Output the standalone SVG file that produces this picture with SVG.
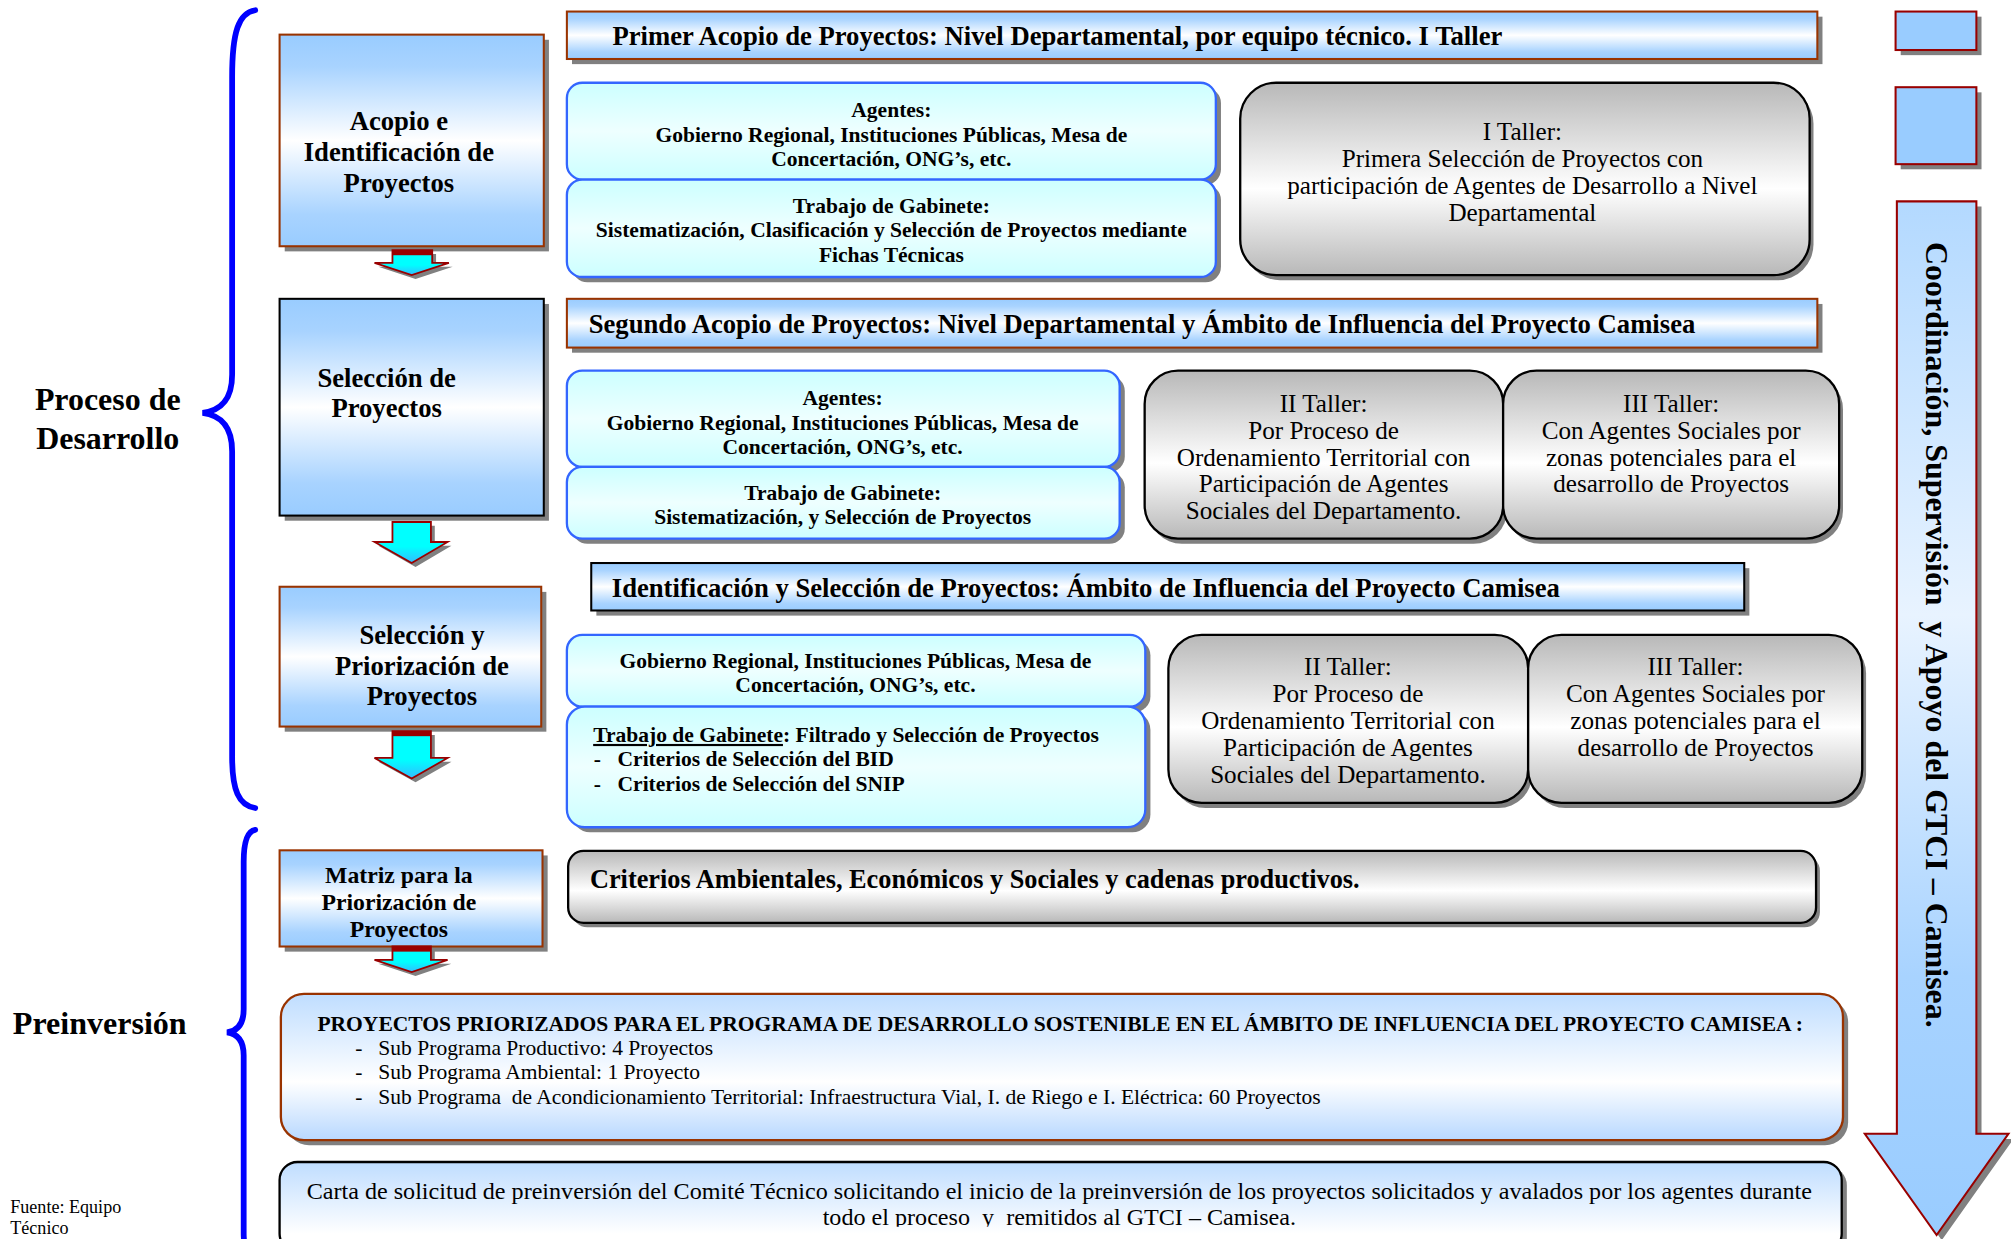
<svg xmlns="http://www.w3.org/2000/svg" width="2011" height="1239" viewBox="0 0 2011 1239">
<defs>
<style>
.b{font-family:"Liberation Serif","Times New Roman",serif;font-weight:bold;fill:#000}
.r{font-family:"Liberation Serif","Times New Roman",serif;font-weight:normal;fill:#000}
.c{text-anchor:middle}
.sh{fill:#808080}
.blue{fill:url(#gBlue);stroke:#993300;stroke-width:1.6}
.blueK{fill:url(#gBlue);stroke:#000;stroke-width:1.6}
.cyan{fill:url(#gCyan);stroke:#3366FF;stroke-width:1.8}
.gray{fill:url(#gGray);stroke:#000;stroke-width:1.8}
.brace{fill:none;stroke:#0000FF;stroke-width:4.5;stroke-linecap:round}
.darr{fill:url(#gArr);stroke:#990000;stroke-width:1.4}
.t1{font-size:20.8px}
.t2{font-size:16.8px}
.t3{font-size:19.6px}
</style>
<linearGradient id="gBlue" x1="0" y1="0" x2="0" y2="1">
<stop offset="0" stop-color="#99CCFF"/><stop offset="0.15" stop-color="#A8D3FF"/><stop offset="0.5" stop-color="#FFFFFF"/><stop offset="0.85" stop-color="#A8D3FF"/><stop offset="1" stop-color="#99CCFF"/>
</linearGradient>
<linearGradient id="gCyan" x1="0" y1="0" x2="0" y2="1">
<stop offset="0" stop-color="#CCFFFF"/><stop offset="0.5" stop-color="#EEFFFF"/><stop offset="1" stop-color="#CCFFFF"/>
</linearGradient>
<linearGradient id="gGray" x1="0" y1="0" x2="0" y2="1">
<stop offset="0" stop-color="#B8B8B8"/><stop offset="0.55" stop-color="#FFFFFF"/><stop offset="1" stop-color="#B8B8B8"/>
</linearGradient>
<linearGradient id="gPre" x1="0" y1="0" x2="0" y2="1">
<stop offset="0" stop-color="#BFDDFF"/><stop offset="0.6" stop-color="#FFFFFF"/><stop offset="1" stop-color="#B8D8FF"/>
</linearGradient>
<linearGradient id="gCarta" x1="0" y1="0" x2="0" y2="1">
<stop offset="0" stop-color="#BFDDFF"/><stop offset="0.8" stop-color="#FFFFFF"/><stop offset="1" stop-color="#FFFFFF"/>
</linearGradient>
<linearGradient id="gArr" x1="0" y1="0" x2="0" y2="1">
<stop offset="0" stop-color="#00FFFF"/><stop offset="0.6" stop-color="#00FFFF"/><stop offset="1" stop-color="#33BBFF"/>
</linearGradient>
<linearGradient id="gBig" x1="0" y1="0" x2="0" y2="1">
<stop offset="0" stop-color="#B3D9FF"/><stop offset="0.4" stop-color="#E8F3FF"/><stop offset="0.75" stop-color="#A8D3FF"/><stop offset="1" stop-color="#99CCFF"/>
</linearGradient>
<clipPath id="clipCarta"><rect x="0" y="0" width="1568" height="956.5"/></clipPath>
</defs>
<g transform="scale(1.28253)">
<rect x="0" y="0" width="1568" height="966" fill="#FFFFFF"/>

<g id="braces">
<path class="brace" d="M199,8 C186,10 181,25 181,60 L181,292 C181,312 172,320 158,322 C172,324 181,332 181,352 L181,590 C181,616 186,628 199,630"/>
<path class="brace" d="M199,647 C193,648 190,656 190,672 L190,787 C190,799 185,804 177,805 C185,806 190,811 190,823 L190,962 C190,975 195,980 199,982"/>
</g>

<g id="label-proceso">
<text class="b c" x="84" y="320" font-size="24.9">Proceso de</text>
<text class="b c" x="84" y="350" font-size="24.9">Desarrollo</text>
</g>
<g id="label-preinversion">
<text class="b" x="10" y="806" font-size="25">Preinversión</text>
</g>
<g id="fuente">
<text class="r" x="8" y="946" font-size="14.1">Fuente: Equipo</text>
<text class="r" x="8" y="962" font-size="14.1">Técnico</text>
</g>

<g id="step1">
<rect class="sh" x="222" y="31" width="206" height="165"/>
<rect class="blue" x="218" y="27" width="206" height="165"/>
<text class="b c t1" x="311" y="101.5">Acopio e</text>
<text class="b c t1" x="311" y="125.5">Identificación de</text>
<text class="b c t1" x="311" y="149.5">Proyectos</text>
</g>
<g id="step2">
<rect class="sh" x="222" y="237" width="206" height="169"/>
<rect class="blueK" x="218" y="233" width="206" height="169"/>
<text class="b c t1" x="301.5" y="301.5">Selección de</text>
<text class="b c t1" x="301.5" y="325">Proyectos</text>
</g>
<g id="step3">
<rect class="sh" x="222" y="461.5" width="204" height="109"/>
<rect class="blue" x="218" y="457.5" width="204" height="109"/>
<text class="b c t1" x="329" y="502">Selección y</text>
<text class="b c t1" x="329" y="526">Priorización de</text>
<text class="b c t1" x="329" y="550">Proyectos</text>
</g>
<g id="step4">
<rect class="sh" x="222" y="667" width="205" height="75"/>
<rect class="blue" x="218" y="663" width="205" height="75"/>
<text class="b c" x="311" y="688.5" font-size="18.5">Matriz para la</text>
<text class="b c" x="311" y="709.5" font-size="18.5">Priorización de</text>
<text class="b c" x="311" y="730.5" font-size="18.5">Proyectos</text>
</g>

<g id="connectors">
<path class="sh" d="M309,198 H340 V208 H353 L324,217.5 L295,208 H309 Z"/>
<path class="darr" d="M306,195 H337 V205 H350 L321,214.5 L292,205 H306 Z"/>
<rect x="306" y="195" width="31" height="4" fill="#990000"/>
<path class="sh" d="M309,410 H339 V425.6 H352 L324,442 L295,425.6 H309 Z"/>
<path class="darr" d="M306,407 H336 V422.6 H349 L321,439 L292,422.6 H306 Z"/>
<path class="sh" d="M309,573 H339 V594 H352 L324,610 L295,594 H309 Z"/>
<path class="darr" d="M306,570 H336 V591 H349 L321,607 L292,591 H306 Z"/>
<rect x="306" y="570" width="30" height="4" fill="#990000"/>
<path class="sh" d="M309,741 H339 V751.5 H352 L324,761 L295,751.5 H309 Z"/>
<path class="darr" d="M306,738 H336 V748.5 H349 L321,758 L292,748.5 H306 Z"/>
<rect x="306" y="738" width="30" height="4" fill="#990000"/>
</g>

<g id="banner1">
<rect class="sh" x="446" y="13" width="975" height="37"/>
<rect class="blue" x="442" y="9" width="975" height="37"/>
<text class="b t1" x="477.5" y="35">Primer Acopio de Proyectos: Nivel Departamental, por equipo técnico. I Taller</text>
</g>
<g id="agentes1">
<rect class="sh" x="446" y="68.5" width="506" height="75.5" rx="12"/>
<rect class="cyan" x="442" y="64.5" width="506" height="75.5" rx="12"/>
<text class="b c t2" x="695" y="91">Agentes:</text>
<text class="b c t2" x="695" y="110.5">Gobierno Regional, Instituciones Públicas, Mesa de</text>
<text class="b c t2" x="695" y="129.5">Concertación, ONG’s, etc.</text>
</g>
<g id="gabinete1">
<rect class="sh" x="446" y="144" width="506" height="76" rx="12"/>
<rect class="cyan" x="442" y="140" width="506" height="76" rx="12"/>
<text class="b c t2" x="695" y="166">Trabajo de Gabinete:</text>
<text class="b c t2" x="695" y="185">Sistematización, Clasificación y Selección de Proyectos mediante</text>
<text class="b c t2" x="695" y="204">Fichas Técnicas</text>
</g>
<g id="taller1">
<rect class="sh" x="970" y="68.5" width="444" height="150" rx="28"/>
<rect class="gray" x="967" y="64.5" width="444" height="150" rx="28"/>
<text class="r c t3" x="1187" y="109">I Taller:</text>
<text class="r c t3" x="1187" y="130">Primera Selección de Proyectos con</text>
<text class="r c t3" x="1187" y="151">participación de Agentes de Desarrollo a Nivel</text>
<text class="r c t3" x="1187" y="172">Departamental</text>
</g>

<g id="banner2">
<rect class="sh" x="446" y="237" width="975" height="38"/>
<rect class="blue" x="442" y="233" width="975" height="38"/>
<text class="b t1" x="459" y="260">Segundo Acopio de Proyectos: Nivel Departamental y Ámbito de Influencia del Proyecto Camisea</text>
</g>
<g id="agentes2">
<rect class="sh" x="446" y="293" width="431" height="75" rx="12"/>
<rect class="cyan" x="442" y="289" width="431" height="75" rx="12"/>
<text class="b c t2" x="657" y="316">Agentes:</text>
<text class="b c t2" x="657" y="335.5">Gobierno Regional, Instituciones Públicas, Mesa de</text>
<text class="b c t2" x="657" y="354">Concertación, ONG’s, etc.</text>
</g>
<g id="gabinete2">
<rect class="sh" x="446" y="368" width="431" height="56" rx="12"/>
<rect class="cyan" x="442" y="364" width="431" height="56" rx="12"/>
<text class="b c t2" x="657" y="390">Trabajo de Gabinete:</text>
<text class="b c t2" x="657" y="408.5">Sistematización, y Selección de Proyectos</text>
</g>
<g id="taller2a">
<rect class="sh" x="895.5" y="293" width="279.5" height="131" rx="26"/>
<rect class="gray" x="892.5" y="289" width="279.5" height="131" rx="26"/>
<text class="r c t3" x="1032" y="321">II Taller:</text>
<text class="r c t3" x="1032" y="342">Por Proceso de</text>
<text class="r c t3" x="1032" y="363">Ordenamiento Territorial con</text>
<text class="r c t3" x="1032" y="384">Participación de Agentes</text>
<text class="r c t3" x="1032" y="405">Sociales del Departamento.</text>
</g>
<g id="taller3a">
<rect class="sh" x="1175" y="293" width="262" height="131" rx="26"/>
<rect class="gray" x="1172" y="289" width="262" height="131" rx="26"/>
<text class="r c t3" x="1303" y="321">III Taller:</text>
<text class="r c t3" x="1303" y="342">Con Agentes Sociales por</text>
<text class="r c t3" x="1303" y="363">zonas potenciales para el</text>
<text class="r c t3" x="1303" y="384">desarrollo de Proyectos</text>
</g>

<g id="banner3">
<rect class="sh" x="465" y="443" width="899" height="37"/>
<rect class="blueK" x="461" y="439" width="899" height="37"/>
<text class="b t1" x="477" y="465.5">Identificación y Selección de Proyectos: Ámbito de Influencia del Proyecto Camisea</text>
</g>
<g id="agentes3">
<rect class="sh" x="446" y="499" width="451" height="56" rx="12"/>
<rect class="cyan" x="442" y="495" width="451" height="56" rx="12"/>
<text class="b c t2" x="667" y="521">Gobierno Regional, Instituciones Públicas, Mesa de</text>
<text class="b c t2" x="667" y="539.5">Concertación, ONG’s, etc.</text>
</g>
<g id="gabinete3">
<rect class="sh" x="446" y="555" width="451" height="94" rx="14"/>
<rect class="cyan" x="442" y="551" width="451" height="94" rx="14"/>
<text class="b t2" x="462.5" y="578.5"><tspan text-decoration="underline">Trabajo de Gabinete</tspan>: Filtrado y Selección de Proyectos</text>
<text class="b t2" x="463" y="597.5">-</text>
<text class="b t2" x="481.5" y="597.5">Criterios de Selección del BID</text>
<text class="b t2" x="463" y="617">-</text>
<text class="b t2" x="481.5" y="617">Criterios de Selección del SNIP</text>
</g>
<g id="taller2b">
<rect class="sh" x="914" y="499" width="280.5" height="131" rx="26"/>
<rect class="gray" x="911" y="495" width="280.5" height="131" rx="26"/>
<text class="r c t3" x="1051" y="526.5">II Taller:</text>
<text class="r c t3" x="1051" y="547.5">Por Proceso de</text>
<text class="r c t3" x="1051" y="568.5">Ordenamiento Territorial con</text>
<text class="r c t3" x="1051" y="589.5">Participación de Agentes</text>
<text class="r c t3" x="1051" y="610.5">Sociales del Departamento.</text>
</g>
<g id="taller3b">
<rect class="sh" x="1194.5" y="499" width="260.5" height="131" rx="26"/>
<rect class="gray" x="1191.5" y="495" width="260.5" height="131" rx="26"/>
<text class="r c t3" x="1322" y="526.5">III Taller:</text>
<text class="r c t3" x="1322" y="547.5">Con Agentes Sociales por</text>
<text class="r c t3" x="1322" y="568.5">zonas potenciales para el</text>
<text class="r c t3" x="1322" y="589.5">desarrollo de Proyectos</text>
</g>

<g id="criterios">
<rect class="sh" x="446" y="667" width="973" height="56" rx="12"/>
<rect class="gray" x="443" y="663.5" width="973" height="56" rx="12"/>
<text class="b" x="460" y="692" font-size="20.5">Criterios Ambientales, Económicos y Sociales y cadenas productivos.</text>
</g>

<g id="priorizados">
<rect class="sh" x="223" y="779" width="1218" height="114" rx="18"/>
<rect x="219" y="775" width="1218" height="114" rx="18" fill="url(#gPre)" stroke="#993300" stroke-width="1.8"/>
<text class="b t2" x="247.5" y="804">PROYECTOS PRIORIZADOS PARA EL PROGRAMA DE DESARROLLO SOSTENIBLE EN EL ÁMBITO DE INFLUENCIA DEL PROYECTO CAMISEA :</text>
<text class="r t2" x="277" y="822.5">-</text>
<text class="r t2" x="295" y="822.5">Sub Programa Productivo: 4 Proyectos</text>
<text class="r t2" x="277" y="841.5">-</text>
<text class="r t2" x="295" y="841.5">Sub Programa Ambiental: 1 Proyecto</text>
<text class="r t2" x="277" y="860.5">-</text>
<text class="r t2" x="295" y="860.5" xml:space="preserve">Sub Programa  de Acondicionamiento Territorial: Infraestructura Vial, I. de Riego e I. Eléctrica: 60 Proyectos</text>
</g>

<g id="carta">
<rect class="sh" x="222" y="910" width="1218" height="70" rx="14"/>
<rect x="218" y="906" width="1218" height="70" rx="14" fill="url(#gCarta)" stroke="#000" stroke-width="1.8"/>
<g clip-path="url(#clipCarta)">
<text class="r c" x="826" y="934.5" font-size="18.8">Carta de solicitud de preinversión del Comité Técnico solicitando el inicio de la preinversión de los proyectos solicitados y avalados por los agentes durante</text>
<text class="r c" x="826" y="955" font-size="18.8" xml:space="preserve">todo el proceso  y  remitidos al GTCI – Camisea.</text>
</g>
</g>

<g id="legend-squares">
<rect class="sh" x="1482" y="13" width="63" height="30"/>
<rect x="1478" y="9" width="63" height="30" fill="#99CCFF" stroke="#990000" stroke-width="1.6"/>
<rect class="sh" x="1482" y="72" width="63" height="60"/>
<rect x="1478" y="68" width="63" height="60" fill="#99CCFF" stroke="#990000" stroke-width="1.6"/>
</g>

<g id="coordinacion-arrow">
<path class="sh" d="M1483,161 H1545 V888 H1570 L1514,967 L1458,888 H1483 Z"/>
<path d="M1479,157 H1541 V884 H1566 L1510,963 L1454,884 H1479 Z" fill="url(#gBig)" stroke="#990000" stroke-width="1.6"/>
<text class="b c" transform="translate(1510,495) rotate(90)" x="0" y="8.5" font-size="24.9" xml:space="preserve">Coordinación, Supervisión  y Apoyo del GTCI – Camisea.</text>
</g>
</g>
</svg>
